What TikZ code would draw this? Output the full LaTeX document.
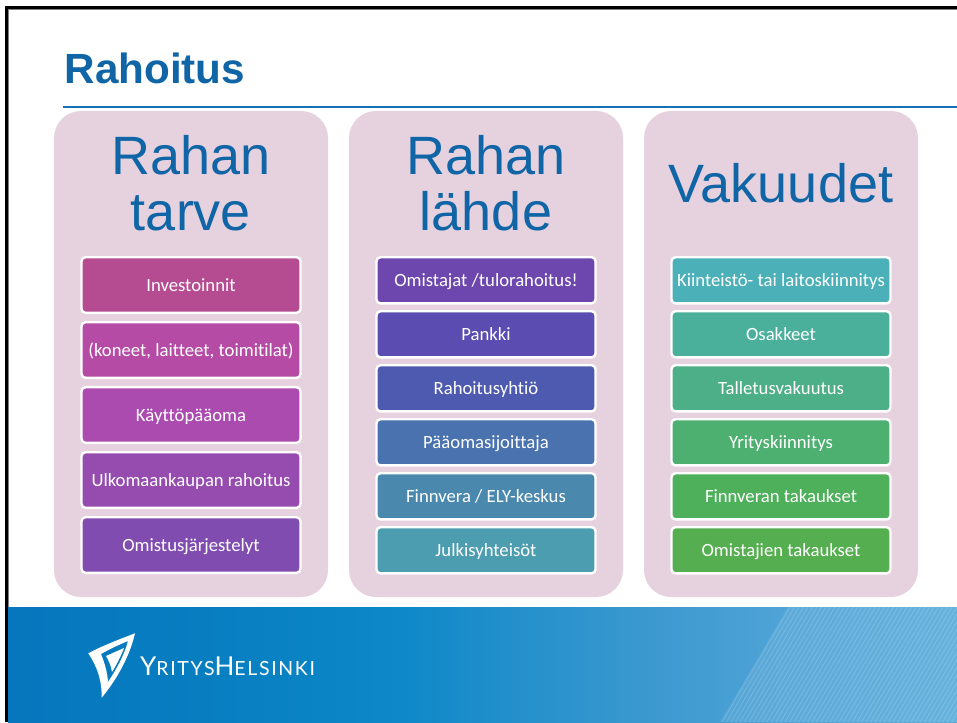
\documentclass[tikz,border=0pt]{standalone}
\usepackage{fontspec}
\setmainfont[Ligatures=NoCommon]{Carlito}
\newfontfamily\headfont{Liberation Sans}
\newfontfamily\logofont[LetterSpace=8.5]{Lato}
\usepackage{tikz}
\definecolor{headblue}{HTML}{0F65A5}
\definecolor{rulecolor}{HTML}{1670B5}
\definecolor{panelpink}{HTML}{E6D1DE}
\definecolor{foota}{HTML}{0676BD}
\definecolor{footb}{HTML}{0880C2}
\definecolor{footc}{HTML}{0E88C8}
\definecolor{footd}{HTML}{3A98CF}
\definecolor{foote}{HTML}{4FA3D6}
\definecolor{footf}{HTML}{5AACDB}
\pgfdeclarehorizontalshading{footshade}{100bp}{
  color(0bp)=(foota); color(25bp)=(foota); color(37.75bp)=(footb); color(45.65bp)=(footc);
  color(58.3bp)=(footd); color(65.7bp)=(foote); color(75bp)=(footf); color(100bp)=(footf)}
\tikzstyle{panel}=[fill=panelpink, rounded corners=27pt]
\tikzstyle{heading}=[headblue, align=center, font=\headfont\fontsize{54}{56}\selectfont]
\tikzstyle{itembox}=[draw=white, line width=2.4pt, rounded corners=4pt, minimum width=219pt, text=white, font=\fontsize{18.7}{20}\selectfont, inner sep=0pt, text height=12pt, text depth=0pt, anchor=north]
\tikzstyle{tallbox}=[itembox, minimum height=55.6pt]
\tikzstyle{lowbox}=[itembox, minimum height=46.2pt]
\newcommand{\drawpanel}[2]{
  \fill[panel] (#1, 111) rectangle (#1+274, 597);
  \coordinate (#2) at (#1+137, 0);
}
\begin{document}
\begin{tikzpicture}[x=1pt, y=-1pt]
    \useasboundingbox (0, 0) rectangle (957, 722);
    \fill[white] (0, 0) rectangle (957, 722);
    % frame
    \fill[black] (5, 6) rectangle (957, 9);
    \fill[black] (5, 6) rectangle (8, 722);
    \draw[gray, line width=0.6pt] (8.3, 722) -- (8.3, 9.3) -- (957, 9.3);
    % title
    \node[headblue, anchor=base west, inner sep=0pt, font=\headfont\bfseries\fontsize{42.2}{43}\selectfont] (title) at (64.5, 84) {Rahoitus};
    \draw[rulecolor, line width=1.1pt] (62.5, 107) -- (957, 107);
    % panels
    \drawpanel{54}{need}
    \drawpanel{349}{source}
    \drawpanel{644}{collateral}
    \node[heading] (needhead) at (191, 183) {Rahan\\tarve};
    \node[heading] (sourcehead) at (486, 183) {Rahan\\lähde};
    \node[heading] (collateralhead) at (781, 183) {Vakuudet};
    % first column
    \node[tallbox, fill={rgb,255:red,181;green,75;blue,144}] (n1) at (191, 256) {Investoinnit};
    \node[tallbox, fill={rgb,255:red,182;green,75;blue,166}] (n2) at (191, 321) {(koneet, laitteet, toimitilat)};
    \node[tallbox, fill={rgb,255:red,171;green,75;blue,176}] (n3) at (191, 386) {Käyttöpääoma};
    \node[tallbox, fill={rgb,255:red,150;green,75;blue,175}] (n4) at (191, 451) {Ulkomaankaupan rahoitus};
    \node[tallbox, fill={rgb,255:red,129;green,76;blue,176}] (n5) at (191, 516) {Omistusjärjestelyt};
    % second column
    \node[lowbox, fill={rgb,255:red,109;green,71;blue,174}] (s1) at (486, 256) {Omistajat /tulorahoitus!};
    \node[lowbox, fill={rgb,255:red,90;green,76;blue,176}] (s2) at (486, 310) {Pankki};
    \node[lowbox, fill={rgb,255:red,78;green,90;blue,176}] (s3) at (486, 364) {Rahoitusyhtiö};
    \node[lowbox, fill={rgb,255:red,74;green,114;blue,174}] (s4) at (486, 418) {Pääomasijoittaja};
    \node[lowbox, fill={rgb,255:red,74;green,136;blue,174}] (s5) at (486, 472) {Finnvera / ELY-keskus};
    \node[lowbox, fill={rgb,255:red,76;green,157;blue,176}] (s6) at (486, 526) {Julkisyhteisöt};
    % third column
    \node[lowbox, fill={rgb,255:red,75;green,176;blue,184}] (c1) at (781, 256) {Kiinteistö- tai laitoskiinnitys};
    \node[lowbox, fill={rgb,255:red,75;green,176;blue,155}] (c2) at (781, 310) {Osakkeet};
    \node[lowbox, fill={rgb,255:red,77;green,175;blue,135}] (c3) at (781, 364) {Talletusvakuutus};
    \node[lowbox, fill={rgb,255:red,77;green,176;blue,112}] (c4) at (781, 418) {Yrityskiinnitys};
    \node[lowbox, fill={rgb,255:red,79;green,176;blue,92}] (c5) at (781, 472) {Finnveran takaukset};
    \node[lowbox, fill={rgb,255:red,85;green,174;blue,79}] (c6) at (781, 526) {Omistajien takaukset};
    % footer
    \shade[shading=footshade] (8, 607) rectangle (957, 722);
    \begin{scope}
      \clip (788, 607) -- (957, 607) -- (957, 722) -- (720, 722) -- cycle;
      \fill[white, opacity=0.08] (700, 607) rectangle (957, 722);
      \foreach \i in {0,...,60} {
        \draw[white, opacity=0.14, line width=1pt] (790+\i*4.5, 607) -- (722+\i*4.5, 722);
      }
    \end{scope}
    % logo
    \fill[white, even odd rule] (135, 633.3) .. controls (112, 642) and (98, 648) .. (88.3, 653.3)
      .. controls (98, 668) and (102, 682) .. (101.7, 697.7) .. controls (118, 678) and (130, 655) .. (135, 633.3) -- cycle
      (128, 641) .. controls (118, 645) and (108, 650) .. (101, 654)
      .. controls (105, 664) and (107.5, 673) .. (108, 682) .. controls (116, 670) and (124, 656) .. (128, 641) -- cycle;
    \fill[white] (124, 648) -- (106, 656) .. controls (109, 661) and (111, 666) .. (112, 672) .. controls (117, 664) and (121, 656) .. (124, 648) -- cycle;
    \node[white, anchor=base west, inner sep=0pt, font=\logofont\fontsize{26}{27}\selectfont] (logotext) at (140, 675) {Y{\fontsize{19.5}{20}\selectfont RITYS}H{\fontsize{19.5}{20}\selectfont ELSINKI}};
\end{tikzpicture}
\end{document}
